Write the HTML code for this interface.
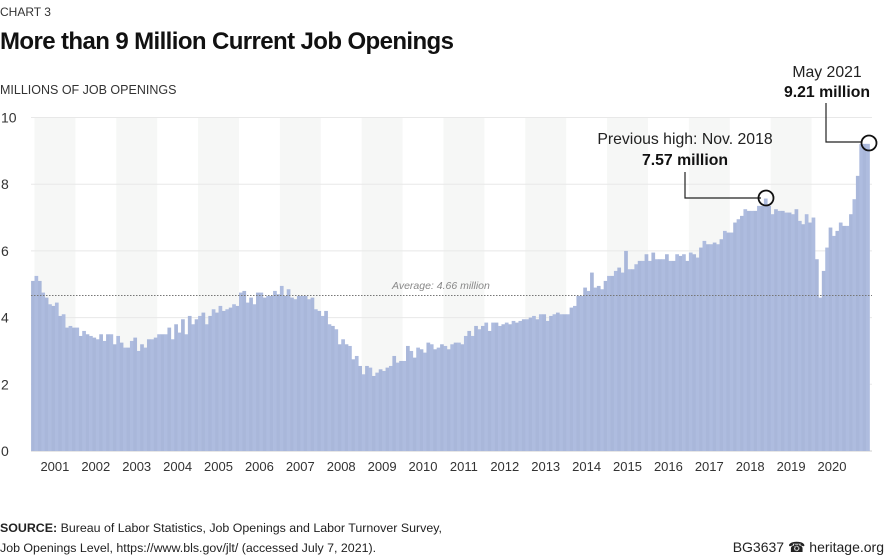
<!DOCTYPE html>
<html><head><meta charset="utf-8"><style>
body{margin:0;width:884px;height:555px;background:#fff;font-family:"Liberation Sans",sans-serif;color:#222;overflow:hidden}
svg{position:absolute;left:0;top:0}
</style></head><body>
<svg id="s" width="884" height="555" xmlns="http://www.w3.org/2000/svg" font-family="Liberation Sans, sans-serif">
<text x="0" y="16" font-size="12" fill="#333">CHART 3</text>
<text x="0" y="49" font-size="24" font-weight="bold" fill="#111" letter-spacing="-0.6">More than 9 Million Current Job Openings</text>
<text x="0" y="94" font-size="12.5" fill="#333">MILLIONS OF JOB OPENINGS</text>
<g id="bands"></g>
<g id="grid"></g>
<g id="bars"></g>
<line x1="31" y1="295.5" x2="872" y2="295.5" stroke="#777" stroke-dasharray="1.5,1.5"/>
<text x="392" y="289" font-size="10.5" font-style="italic" fill="#888">Average: 4.66 million</text>
<g id="ylab" font-size="14" fill="#333"></g>
<g id="xlab" font-size="13" fill="#333" text-anchor="middle"></g>
<polyline points="685,172 685,198 761,198" fill="none" stroke="#222" stroke-width="1.2"/>
<circle cx="766" cy="198" r="7.5" fill="none" stroke="#111" stroke-width="1.8"/>
<text x="685" y="144" font-size="15.8" text-anchor="middle" fill="#222">Previous high: Nov. 2018</text>
<text x="685" y="165" font-size="15.8" font-weight="bold" text-anchor="middle" fill="#111">7.57 million</text>
<polyline points="826,103 826,142 862,142" fill="none" stroke="#222" stroke-width="1.2"/>
<circle cx="869" cy="143" r="7.5" fill="none" stroke="#111" stroke-width="1.8"/>
<text x="827" y="77" font-size="15.8" text-anchor="middle" fill="#222">May 2021</text>
<text x="827" y="97" font-size="15.8" font-weight="bold" text-anchor="middle" fill="#111">9.21 million</text>
<text x="0" y="532" font-size="12.4" fill="#222"><tspan font-weight="bold">SOURCE:</tspan> Bureau of Labor Statistics, Job Openings and Labor Turnover Survey,</text>
<text x="0" y="552" font-size="12.4" fill="#222">Job Openings Level, https://www.bls.gov/jlt/ (accessed July 7, 2021).</text>
<text x="884" y="552" font-size="14" fill="#222" text-anchor="end">BG3637 ☎ heritage.org</text>
</svg>
<script>
var d=[5.1,
5.25,5.1,4.75,4.6,4.4,4.35,4.45,4.05,4.1,3.7,3.75,3.7,
3.7,3.45,3.6,3.5,3.45,3.4,3.35,3.5,3.3,3.5,3.5,3.2,
3.45,3.25,3.1,3.1,3.3,3.4,3.0,3.2,3.1,3.35,3.35,3.4,
3.5,3.5,3.5,3.7,3.35,3.8,3.55,3.95,3.5,4.05,3.8,3.95,
4.05,4.15,3.8,4.05,4.25,4.15,4.35,4.2,4.25,4.3,4.4,4.35,
4.75,4.8,4.45,4.6,4.4,4.75,4.75,4.6,4.65,4.65,4.8,4.7,
4.95,4.65,4.85,4.6,4.55,4.65,4.65,4.65,4.55,4.6,4.25,4.2,
4.05,4.2,3.8,3.75,3.65,3.2,3.35,3.2,3.15,2.75,2.85,2.55,
2.3,2.55,2.5,2.25,2.35,2.45,2.4,2.5,2.55,2.85,2.65,2.7,
2.7,3.15,3.0,2.8,3.1,3.05,2.95,3.25,3.2,3.05,3.1,3.2,
3.15,3.05,3.2,3.25,3.25,3.2,3.45,3.6,3.45,3.75,3.65,3.75,
3.85,3.6,3.85,3.85,3.75,3.8,3.85,3.8,3.9,3.85,3.9,3.95,
3.95,4.0,4.05,3.95,4.1,4.1,3.9,4.05,4.1,4.15,4.1,4.1,
4.1,4.3,4.35,4.65,4.65,4.9,4.8,5.35,4.9,4.95,4.85,5.1,
5.25,5.25,5.4,5.5,5.35,6.0,5.45,5.45,5.6,5.7,5.7,5.9,
5.7,5.95,5.75,5.75,5.75,5.9,5.7,5.7,5.9,5.85,5.9,5.7,
5.95,5.9,5.8,6.1,6.3,6.2,6.2,6.25,6.2,6.35,6.6,6.55,
6.55,6.85,6.95,7.05,7.25,7.2,7.2,7.2,7.35,7.35,7.57,7.35,
7.1,7.25,7.2,7.2,7.15,7.15,7.1,7.25,6.9,6.8,7.1,6.85,
7.0,5.75,4.6,5.4,6.1,6.7,6.45,6.6,6.85,6.75,6.75,7.1,
7.55,8.25,9.2,9.21,9.21];
var NS="http://www.w3.org/2000/svg",mw=40.9/12,x0=34.5-mw,Y=function(v){return 451-v*33.35};
function el(p,t,a,txt){var e=document.createElementNS(NS,t);for(var k in a)e.setAttribute(k,a[k]);if(txt)e.textContent=txt;document.getElementById(p).appendChild(e);}
for(var y=0;y<20;y+=2)el("bands","rect",{x:34.5+y*40.9,y:117,width:40.9,height:334,fill:"#f6f7f6"});
for(var v=2;v<=10;v+=2)el("grid","line",{x1:31,x2:872,y1:Y(v),y2:Y(v),stroke:"#e8e8e8"});
for(var i=0;i<d.length;i++)el("bars","rect",{x:x0+i*mw,y:Y(d[i]),width:mw+0.3,height:d[i]*33.35,fill:i%2?"#aebcdf":"#a9b7da"});
for(var v=0;v<=10;v+=2)el("ylab","text",{x:1,y:Y(v)+5},String(v));
for(var y=0;y<20;y++)el("xlab","text",{x:34.5+y*40.9+20.4,y:471},String(2001+y));
el("grid","line",{x1:31,x2:872,y1:451,y2:451,stroke:"#ccc"});
</script>
</body></html>
